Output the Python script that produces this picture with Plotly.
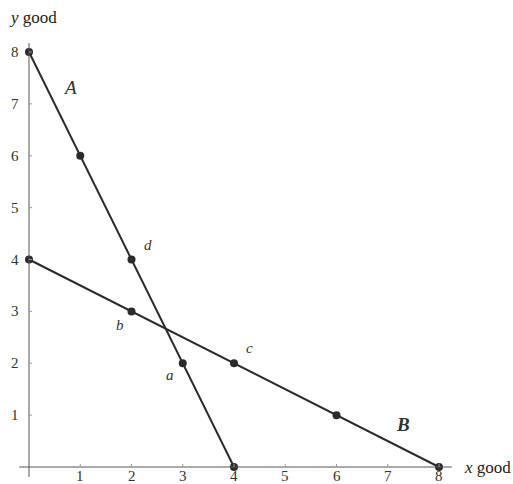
import plotly.graph_objects as go

# Budget line A
line_a_x = [0, 1, 2, 3, 4]
line_a_y = [8, 6, 4, 2, 0]
# Budget line B
line_b_x = [0, 2, 4, 6, 8]
line_b_y = [4, 3, 2, 1, 0]

x_ticks = [1, 2, 3, 4, 5, 6, 7, 8]
y_ticks = [1, 2, 3, 4, 5, 6, 7, 8]

# point labels
point_labels = ["d", "b", "a", "c"]
point_label_x = [2.32, 1.78, 2.75, 4.31]
point_label_y = [4.28, 2.74, 1.77, 2.29]

line_labels = ["<i>A</i>", "<b><i>B</i></b>"]
line_label_x = [0.80, 7.30]
line_label_y = [7.31, 0.81]

W, H = 513, 484
# pixel mapping: x=0 -> 29px, x=8 -> 439px ; y=8 -> 52px, y=0 -> 467px
sx = (439 - 29) / 8.0
sy = (467 - 52) / 8.0
x_min = -29 / sx
x_max = x_min + W / sx
y_max = 8 + 52 / sy
y_min = -(H - 467) / sy

FONT = "Liberation Serif"
INK = "#2b2b2b"

fig = go.Figure()

# axis lines
fig.add_shape(type="line", x0=0, x1=0, y0=-0.19, y1=8.17,
              line=dict(color="#555", width=1))
fig.add_shape(type="line", x0=-0.19, x1=8.25, y0=0, y1=0,
              line=dict(color="#555", width=1))
# tick marks
for t in x_ticks:
    fig.add_shape(type="line", x0=t, x1=t, y0=0, y1=0.06,
                  line=dict(color="#999", width=1))
for t in y_ticks:
    fig.add_shape(type="line", x0=0, x1=0.06, y0=t, y1=t,
                  line=dict(color="#999", width=1))

for xs, ys in [(line_a_x, line_a_y), (line_b_x, line_b_y)]:
    fig.add_trace(go.Scatter(
        x=xs, y=ys, mode="lines+markers",
        line=dict(color=INK, width=2),
        marker=dict(color=INK, size=8),
        cliponaxis=False, showlegend=False, hoverinfo="skip"))

# tick labels
for t in x_ticks:
    fig.add_annotation(x=t, y=-0.18, text=str(t), showarrow=False,
                       font=dict(family=FONT, size=15, color="#333"))
for t in y_ticks:
    fig.add_annotation(x=-0.27, y=t, text=str(t), showarrow=False,
                       font=dict(family=FONT, size=15, color="#333"))

# axis titles
fig.add_annotation(x=-0.43, y=8.67, xanchor="left", text="<i>y</i> good",
                   showarrow=False, font=dict(family=FONT, size=17, color="#222"))
fig.add_annotation(x=8.45, y=0, xanchor="left", text="<i>x</i> good",
                   showarrow=False, font=dict(family=FONT, size=17, color="#222"))

for txt, x, y in zip(point_labels, point_label_x, point_label_y):
    fig.add_annotation(x=x, y=y, text="<i>" + txt + "</i>", showarrow=False,
                       font=dict(family=FONT, size=15, color="#333"))
for txt, x, y in zip(line_labels, line_label_x, line_label_y):
    fig.add_annotation(x=x, y=y, text=txt, showarrow=False,
                       font=dict(family=FONT, size=19, color="#333"))

fig.update_layout(
    width=W, height=H,
    margin=dict(l=0, r=0, t=0, b=0),
    plot_bgcolor="white", paper_bgcolor="white",
    xaxis=dict(range=[x_min, x_max], visible=False, fixedrange=True),
    yaxis=dict(range=[y_min, y_max], visible=False, fixedrange=True),
)

fig.write_html(
    "out.html",
    config={"displayModeBar": False, "staticPlot": True},
    post_script="document.body.style.margin='0';document.body.style.overflow='hidden';",
)
